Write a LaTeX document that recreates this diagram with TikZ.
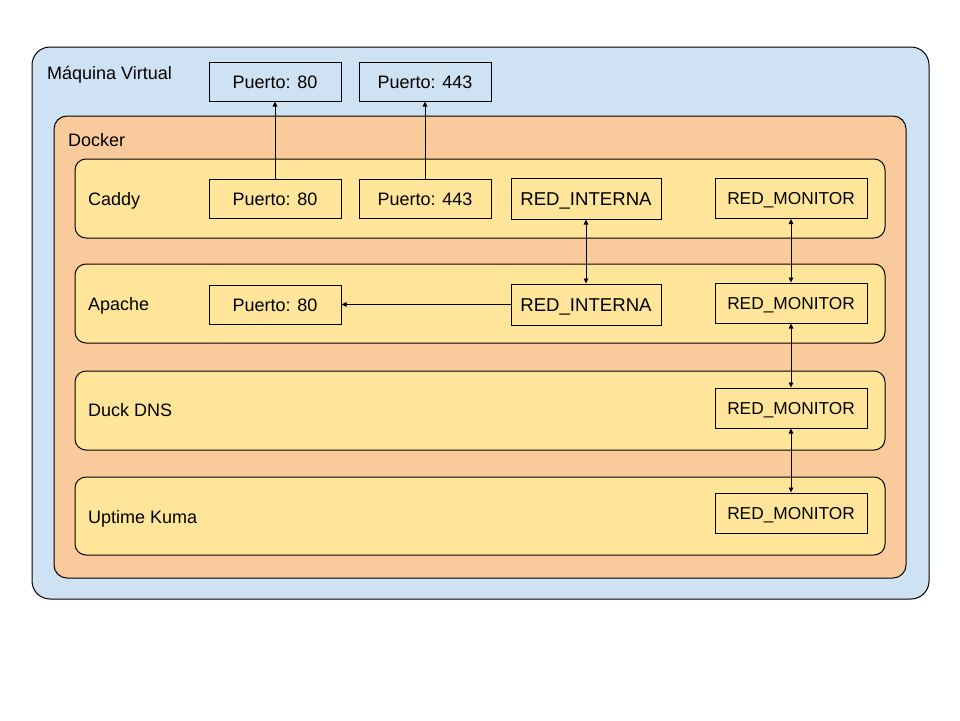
\documentclass[tikz,border=0pt]{standalone}
\usepackage{fontspec}
\setmainfont{Liberation Sans}
\usetikzlibrary{arrows.meta}
\definecolor{vmblue}{HTML}{CFE2F3}
\definecolor{dockerorange}{HTML}{F9CB9C}
\definecolor{rowyellow}{HTML}{FFE599}
\begin{document}
\begin{tikzpicture}[x=1pt,y=-1pt,
  container/.style={draw=black, line width=1pt, inner sep=0pt, outer sep=0pt},
  vmbox/.style={container, fill=vmblue, rounded corners=18pt},
  dockerbox/.style={container, fill=dockerorange, rounded corners=13pt},
  rowbox/.style={container, fill=rowyellow, rounded corners=11pt, minimum width=810pt},
  portbox/.style={draw=black, line width=1pt, inner sep=0pt, minimum width=132pt, minimum height=39pt, text height=13pt, text depth=0pt, font=\fontsize{18}{20}\selectfont},
  netbox/.style={portbox, minimum width=150pt, minimum height=41pt, font=\fontsize{18.6}{21}\selectfont},
  monbox/.style={portbox, minimum width=152pt, minimum height=40pt, text height=12.5pt, font=\fontsize{17.3}{20}\selectfont},
  lbl/.style={anchor=west, inner sep=0pt, text height=13pt, text depth=0pt, font=\fontsize{18}{20}\selectfont},
  arr/.style={line width=0.9pt, -{Triangle[length=5pt,width=4.5pt]}},
  darr/.style={line width=0.9pt, {Triangle[length=5pt,width=4.5pt]}-{Triangle[length=5pt,width=4.5pt]}}
]
\useasboundingbox (0,0) rectangle (960,720);
\fill[white] (0,0) rectangle (960,720);

\node[vmbox, minimum width=897pt, minimum height=552pt] (vm) at (480.5,323) {};
\node[lbl] (vmlbl) at (47,73) {Máquina Virtual};
\node[portbox, fill=vmblue] (vp80) at (275,81.5) {Puerto: 80};
\node[portbox, fill=vmblue] (vp443) at (425,81.5) {Puerto: 443};

\node[dockerbox, minimum width=852pt, minimum height=462pt] (docker) at (480,347) {};
\node[lbl] (dockerlbl) at (68,140) {Docker};

\node[rowbox, minimum height=79pt] (caddy) at (480,198.5) {};
\node[rowbox, minimum height=79pt] (apache) at (480,303.5) {};
\node[rowbox, minimum height=79pt] (duck) at (480,410.5) {};
\node[rowbox, minimum height=78pt] (uptime) at (480,516) {};

\node[lbl] (caddylbl) at (88,199) {Caddy};
\node[lbl] (apachelbl) at (88,304) {Apache};
\node[lbl] (ducklbl) at (88,410) {Duck DNS};
\node[lbl] (uptimelbl) at (88,517) {Uptime Kuma};

\node[portbox] (cp80) at (275,198.5) {Puerto: 80};
\node[portbox] (cp443) at (425,198.5) {Puerto: 443};
\node[netbox] (cri) at (586,198.5) {RED\_INTERNA};
\node[monbox] (crm) at (791,198.5) {RED\_MONITOR};

\node[portbox] (ap80) at (275,304.5) {Puerto: 80};
\node[netbox] (ari) at (586,304.5) {RED\_INTERNA};
\node[monbox] (arm) at (791,303) {RED\_MONITOR};

\node[monbox] (drm) at (791,408) {RED\_MONITOR};
\node[monbox] (urm) at (791,513) {RED\_MONITOR};

\draw[arr] (cp80) -- (vp80);
\draw[arr] (cp443) -- (vp443);
\draw[darr] (cri) -- (ari);
\draw[arr] (ari) -- (ap80);
\draw[darr] (crm) -- (arm);
\draw[darr] (arm) -- (drm);
\draw[darr] (drm) -- (urm);
\end{tikzpicture}
\end{document}
